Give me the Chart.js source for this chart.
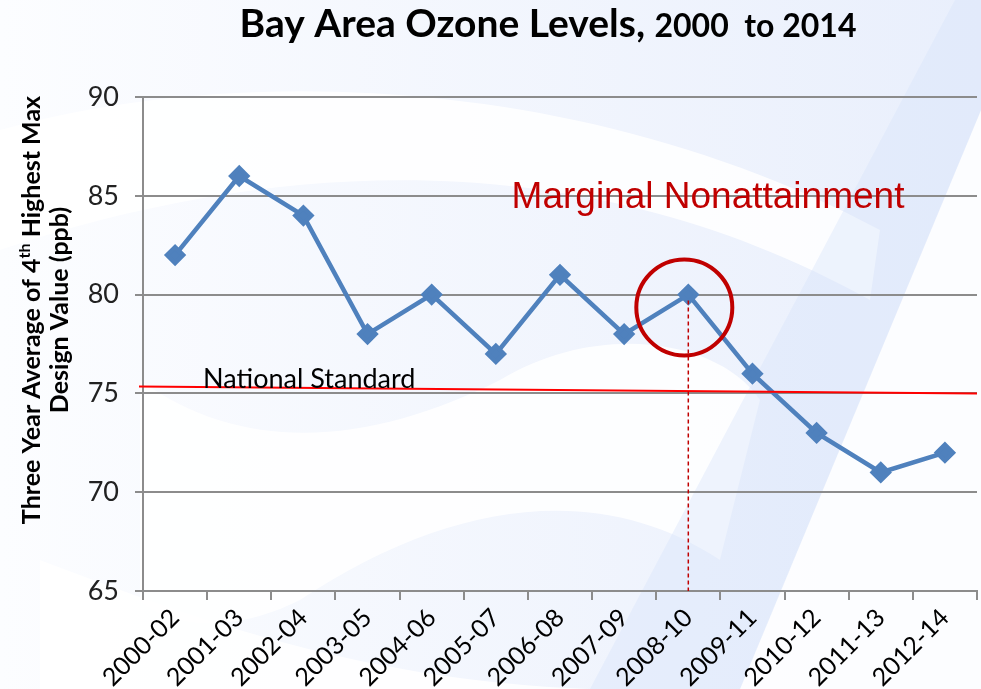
<!DOCTYPE html>
<html>
<head>
<meta charset="utf-8">
<script src="https://cdn.jsdelivr.net/npm/chart.js@4"></script>
<style>
  html, body { margin: 0; padding: 0; background: #fff; }
  #wrap { width: 981px; height: 689px; }
</style>
</head>
<body>
<div id="wrap"><canvas id="ozoneChart" width="981" height="689"></canvas></div>
<script>
const periods = ['2000-02', '2001-03', '2002-04', '2003-05', '2004-06', '2005-07', '2006-08',
  '2007-09', '2008-10', '2009-11', '2010-12', '2011-13', '2012-14'];
const designValues = [82, 86, 84, 78, 80, 77, 81, 78, 80, 76, 73, 71, 72];
const yTicks = [65, 70, 75, 80, 85, 90];

// national standard line, drawn slightly sloped like the original slide
const standardStart = 75.35;
const standardEnd = 75;
const highlightIndex = 8; // 2008-10
const nonattainmentLabelValue = 85.5;
const standardLabelValue = 75.5;

const fontFamily = 'Lato, "Open Sans", sans-serif';

// Slide background: pale blue wash with white swooshes
const backgroundPlugin = {
  id: 'slideBackground',
  beforeDraw(chart) {
    const ctx = chart.ctx;
    const w = chart.width, h = chart.height;
    ctx.save();
    const g = ctx.createLinearGradient(0, 0, w, 0);
    g.addColorStop(0, '#fcfdff');
    g.addColorStop(1, '#e9effc');
    ctx.fillStyle = g;
    ctx.fillRect(0, 0, w, h);

    ctx.fillStyle = 'rgba(255,255,255,0.85)';
    // upper swoosh
    ctx.beginPath();
    ctx.moveTo(0, 130);
    ctx.bezierCurveTo(250, 60, 600, 80, 880, 230);
    ctx.lineTo(870, 300);
    ctx.bezierCurveTo(600, 150, 300, 150, 0, 250);
    ctx.closePath();
    ctx.fill();
    // middle swoosh
    ctx.beginPath();
    ctx.moveTo(140, 380);
    ctx.bezierCurveTo(250, 460, 380, 440, 500, 380);
    ctx.bezierCurveTo(600, 320, 720, 340, 760, 400);
    ctx.lineTo(720, 560);
    ctx.bezierCurveTo(600, 480, 450, 500, 300, 600);
    ctx.bezierCurveTo(220, 640, 160, 620, 140, 600);
    ctx.closePath();
    ctx.fill();
    // lower swoosh
    ctx.beginPath();
    ctx.moveTo(40, 560);
    ctx.bezierCurveTo(200, 620, 400, 700, 700, 689);
    ctx.lineTo(40, 689);
    ctx.closePath();
    ctx.fill();
    // bottom-right white area
    ctx.beginPath();
    ctx.moveTo(740, 689);
    ctx.lineTo(981, 110);
    ctx.lineTo(981, 689);
    ctx.closePath();
    ctx.fill();
    // diagonal blue band
    ctx.fillStyle = 'rgba(215,227,250,0.4)';
    ctx.beginPath();
    ctx.moveTo(955, 0);
    ctx.lineTo(981, 0);
    ctx.lineTo(981, 110);
    ctx.lineTo(740, 689);
    ctx.lineTo(590, 689);
    ctx.closePath();
    ctx.fill();
    ctx.restore();
  }
};

// Title, y-axis title with superscript, and the annotations
const overlayPlugin = {
  id: 'overlay',
  afterDraw(chart) {
    const ctx = chart.ctx;
    const x = chart.scales.x, y = chart.scales.y;
    const area = chart.chartArea;
    ctx.save();

    // title
    ctx.fillStyle = '#000';
    ctx.textBaseline = 'alphabetic';
    const part1 = 'Bay Area Ozone Levels, ';
    const part2 = '2000  to 2014';
    ctx.font = 'bold 39px ' + fontFamily;
    const w1 = ctx.measureText(part1).width;
    ctx.font = 'bold 32px ' + fontFamily;
    const w2 = ctx.measureText(part2).width;
    let tx = 548 - (w1 + w2) / 2;
    ctx.font = 'bold 39px ' + fontFamily;
    ctx.textAlign = 'left';
    ctx.fillText(part1, tx, 37);
    ctx.font = 'bold 32px ' + fontFamily;
    ctx.fillText(part2, tx + w1, 37);

    // y-axis title, two rotated lines
    ctx.save();
    ctx.translate(0, 310);
    ctx.rotate(-Math.PI / 2);
    const line1a = 'Three Year Average of 4';
    const sup = 'th';
    const line1b = ' Highest Max';
    ctx.font = 'bold 25px ' + fontFamily;
    const a = ctx.measureText(line1a).width;
    const b = ctx.measureText(line1b).width;
    ctx.font = 'bold 16px ' + fontFamily;
    const s = ctx.measureText(sup).width;
    let lx = -(a + s + b) / 2;
    ctx.textAlign = 'left';
    ctx.font = 'bold 25px ' + fontFamily;
    ctx.fillText(line1a, lx, 40);
    ctx.font = 'bold 16px ' + fontFamily;
    ctx.fillText(sup, lx + a, 30);
    ctx.font = 'bold 25px ' + fontFamily;
    ctx.fillText(line1b, lx + a + s, 40);
    ctx.textAlign = 'center';
    ctx.fillText('Design Value (ppb)', 0, 68);
    ctx.restore();

    // national standard line
    ctx.strokeStyle = '#ff0000';
    ctx.lineWidth = 2;
    ctx.beginPath();
    ctx.moveTo(area.left - 4, y.getPixelForValue(standardStart));
    ctx.lineTo(area.right, y.getPixelForValue(standardEnd));
    ctx.stroke();

    ctx.fillStyle = '#000';
    ctx.font = '27px ' + fontFamily;
    ctx.textAlign = 'left';
    ctx.fillText('National Standard', x.getPixelForValue(0) + 28, y.getPixelForValue(standardLabelValue) + 4);

    // dashed drop line from the highlighted point
    const px = x.getPixelForValue(highlightIndex);
    const py = y.getPixelForValue(designValues[highlightIndex]);
    ctx.strokeStyle = '#c00000';
    ctx.lineWidth = 1.5;
    ctx.setLineDash([4, 3]);
    ctx.beginPath();
    ctx.moveTo(px, py + 6);
    ctx.lineTo(px, area.bottom);
    ctx.stroke();
    ctx.setLineDash([]);

    // circle around the highlighted point
    ctx.lineWidth = 4;
    ctx.beginPath();
    ctx.arc(px - 4, y.getPixelForValue(designValues[highlightIndex] - 0.65), 48, 0, Math.PI * 2);
    ctx.stroke();

    // Marginal Nonattainment label
    ctx.fillStyle = '#c00000';
    ctx.font = '37px "Liberation Sans", Arial, sans-serif';
    ctx.textAlign = 'center';
    ctx.fillText('Marginal Nonattainment', 708, y.getPixelForValue(nonattainmentLabelValue) + 22);
    ctx.restore();
  }
};

new Chart(document.getElementById('ozoneChart').getContext('2d'), {
  type: 'line',
  data: {
    labels: periods,
    datasets: [{
      data: designValues,
      borderColor: '#4f81bd',
      backgroundColor: '#4f81bd',
      borderWidth: 4.5,
      pointStyle: 'rectRot',
      pointRadius: 8,
      pointHoverRadius: 8,
      tension: 0
    }]
  },
  options: {
    responsive: false,
    animation: false,
    layout: { autoPadding: false, padding: { top: 97, right: 4, left: 0, bottom: 0 } },
    plugins: {
      legend: { display: false },
      tooltip: { enabled: false },
      title: { display: false }
    },
    scales: {
      x: {
        offset: true,
        grid: {
          display: true,
          drawOnChartArea: false,
          offset: true,
          color: '#8c8c8c',
          lineWidth: 2,
          tickLength: 9
        },
        border: { color: '#8c8c8c', width: 2 },
        ticks: {
          color: '#000',
          font: { family: fontFamily, size: 25 },
          maxRotation: 45,
          minRotation: 45,
          autoSkip: false,
          padding: 3
        },
        afterFit(scale) {
          scale.height = 98;
        }
      },
      y: {
        min: 65,
        max: 90,
        afterBuildTicks(scale) { scale.ticks = yTicks.map(v => ({ value: v })); },
        grid: {
          color: '#8c8c8c',
          lineWidth: 2,
          tickLength: 8
        },
        border: { color: '#8c8c8c', width: 2 },
        ticks: {
          color: '#222',
          font: { family: fontFamily, size: 27 },
          padding: 16
        },
        afterFit(scale) {
          scale.width = 143;
        }
      }
    }
  },
  plugins: [backgroundPlugin, overlayPlugin]
});
</script>
</body>
</html>
